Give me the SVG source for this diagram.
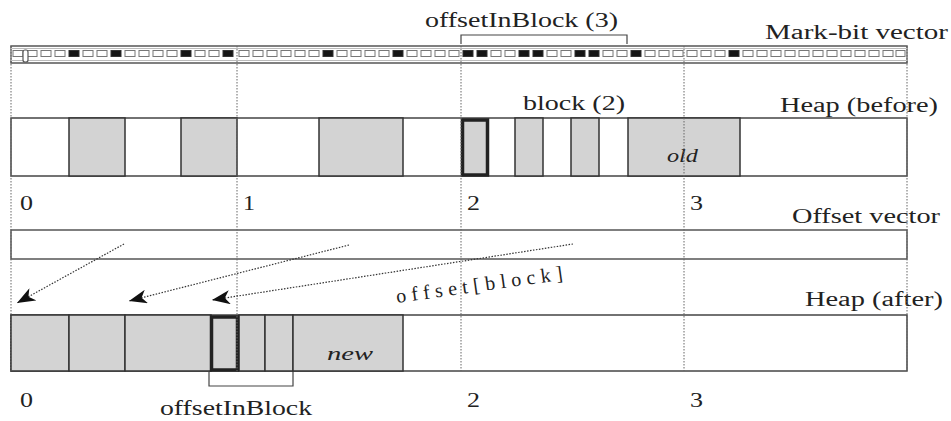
<svg xmlns="http://www.w3.org/2000/svg" width="951" height="421" viewBox="0 0 951 421">
  <style>
    .lbl { font-family: 'Liberation Serif', 'DejaVu Serif', serif; font-size: 20px; fill: #222; }
    .it { font-style: italic; font-size: 18px; }
    .box { fill: #ffffff; stroke: #444; stroke-width: 1.5; }
    .obj { fill: #d3d3d3; stroke: #333; stroke-width: 1.5; }
    .sel { fill: #d3d3d3; stroke: #222; stroke-width: 3.5; }
    .grid { stroke: #666; stroke-width: 1; stroke-dasharray: 1.5 1.5; fill: none; }
    .cell { fill: #ffffff; stroke: #777; stroke-width: 1; }
    .cell.on { fill: #151515; stroke: #333; }
    .ptr { stroke: #333; stroke-width: 1.2; stroke-dasharray: 1.5 1.5; fill: none; }
    .brk { stroke: #444; stroke-width: 1.2; fill: none; }
  </style>
  <defs>
    <marker id="head" markerUnits="userSpaceOnUse" markerWidth="20" markerHeight="14" refX="18" refY="7" orient="auto">
      <path d="M0,0 L18,7 L0,14 L5,7 z" fill="#111"/>
    </marker>
  </defs>
  <rect width="951" height="421" fill="#ffffff"/>

  <!-- mark-bit vector: 64 cells, 16 per block -->
  <g id="markbits">
    <rect x="11" y="46" width="896" height="17" fill="#fff" stroke="#555" stroke-width="1.5"/>
    <rect x="11" y="48.5" width="896" height="12" fill="none" stroke="#bbb" stroke-width="1"/>
    <g id="cells">
      <rect class="cell" x="13" y="50.5" width="10" height="6"/>
      <rect class="cell" x="27" y="50.5" width="10" height="6"/>
      <rect class="cell" x="41" y="50.5" width="10" height="6"/>
      <rect class="cell" x="55" y="50.5" width="10" height="6"/>
      <rect class="cell on" x="69" y="50.5" width="10" height="6"/>
      <rect class="cell" x="83" y="50.5" width="10" height="6"/>
      <rect class="cell" x="97" y="50.5" width="10" height="6"/>
      <rect class="cell on" x="111" y="50.5" width="10" height="6"/>
      <rect class="cell" x="125" y="50.5" width="10" height="6"/>
      <rect class="cell" x="139" y="50.5" width="10" height="6"/>
      <rect class="cell" x="153" y="50.5" width="10" height="6"/>
      <rect class="cell" x="167" y="50.5" width="10" height="6"/>
      <rect class="cell on" x="181" y="50.5" width="10" height="6"/>
      <rect class="cell" x="195" y="50.5" width="10" height="6"/>
      <rect class="cell" x="209" y="50.5" width="10" height="6"/>
      <rect class="cell on" x="223" y="50.5" width="10" height="6"/>
      <rect class="cell" x="239" y="50.5" width="10" height="6"/>
      <rect class="cell" x="253" y="50.5" width="10" height="6"/>
      <rect class="cell" x="267" y="50.5" width="10" height="6"/>
      <rect class="cell" x="281" y="50.5" width="10" height="6"/>
      <rect class="cell" x="295" y="50.5" width="10" height="6"/>
      <rect class="cell" x="309" y="50.5" width="10" height="6"/>
      <rect class="cell on" x="323" y="50.5" width="10" height="6"/>
      <rect class="cell" x="337" y="50.5" width="10" height="6"/>
      <rect class="cell" x="351" y="50.5" width="10" height="6"/>
      <rect class="cell" x="365" y="50.5" width="10" height="6"/>
      <rect class="cell" x="379" y="50.5" width="10" height="6"/>
      <rect class="cell on" x="393" y="50.5" width="10" height="6"/>
      <rect class="cell" x="407" y="50.5" width="10" height="6"/>
      <rect class="cell" x="421" y="50.5" width="10" height="6"/>
      <rect class="cell" x="435" y="50.5" width="10" height="6"/>
      <rect class="cell" x="449" y="50.5" width="10" height="6"/>
      <rect class="cell on" x="463" y="50.5" width="10" height="6"/>
      <rect class="cell on" x="477" y="50.5" width="10" height="6"/>
      <rect class="cell" x="491" y="50.5" width="10" height="6"/>
      <rect class="cell" x="505" y="50.5" width="10" height="6"/>
      <rect class="cell on" x="519" y="50.5" width="10" height="6"/>
      <rect class="cell on" x="533" y="50.5" width="10" height="6"/>
      <rect class="cell" x="547" y="50.5" width="10" height="6"/>
      <rect class="cell" x="561" y="50.5" width="10" height="6"/>
      <rect class="cell on" x="575" y="50.5" width="10" height="6"/>
      <rect class="cell on" x="589" y="50.5" width="10" height="6"/>
      <rect class="cell" x="603" y="50.5" width="10" height="6"/>
      <rect class="cell" x="617" y="50.5" width="10" height="6"/>
      <rect class="cell on" x="631" y="50.5" width="10" height="6"/>
      <rect class="cell" x="645" y="50.5" width="10" height="6"/>
      <rect class="cell" x="659" y="50.5" width="10" height="6"/>
      <rect class="cell" x="673" y="50.5" width="10" height="6"/>
      <rect class="cell" x="687" y="50.5" width="10" height="6"/>
      <rect class="cell" x="701" y="50.5" width="10" height="6"/>
      <rect class="cell" x="715" y="50.5" width="10" height="6"/>
      <rect class="cell on" x="729" y="50.5" width="10" height="6"/>
      <rect class="cell" x="743" y="50.5" width="10" height="6"/>
      <rect class="cell" x="757" y="50.5" width="10" height="6"/>
      <rect class="cell" x="771" y="50.5" width="10" height="6"/>
      <rect class="cell" x="785" y="50.5" width="10" height="6"/>
      <rect class="cell" x="799" y="50.5" width="10" height="6"/>
      <rect class="cell" x="813" y="50.5" width="10" height="6"/>
      <rect class="cell" x="827" y="50.5" width="10" height="6"/>
      <rect class="cell" x="841" y="50.5" width="10" height="6"/>
      <rect class="cell" x="855" y="50.5" width="10" height="6"/>
      <rect class="cell" x="869" y="50.5" width="10" height="6"/>
      <rect class="cell" x="883" y="50.5" width="10" height="6"/>
      <rect class="cell" x="896" y="50.5" width="9" height="6"/>
    </g>
    <rect x="23" y="50" width="5" height="12" rx="2" fill="#fff" stroke="#555" stroke-width="1.2"/>
    <text class="lbl" x="765" y="39" textLength="183" lengthAdjust="spacingAndGlyphs">Mark-bit vector</text>
  </g>

  <!-- bracket: offsetInBlock (3) -->
  <g id="bracket-top">
    <path class="brk" d="M461,44 V35 H627 V44"/>
    <text class="lbl" x="425" y="27" textLength="193" lengthAdjust="spacingAndGlyphs">offsetInBlock (3)</text>
  </g>

  <!-- heap before compaction -->
  <g id="heap-before">
    <rect class="box" x="11" y="118" width="896" height="58"/>
    <rect class="obj" x="69" y="118" width="56" height="58"/>
    <rect class="obj" x="181" y="118" width="56" height="58"/>
    <rect class="obj" x="319" y="118" width="84" height="58"/>
    <rect class="sel" x="462.5" y="120" width="25" height="55"/>
    <rect class="obj" x="515" y="118" width="28" height="58"/>
    <rect class="obj" x="571" y="118" width="28" height="58"/>
    <rect class="obj" x="628" y="118" width="112" height="58"/>
    <text class="lbl it" x="667" y="162" textLength="31" lengthAdjust="spacingAndGlyphs">old</text>
    <text class="lbl" x="523" y="110" textLength="102" lengthAdjust="spacingAndGlyphs">block (2)</text>
    <text class="lbl" x="780" y="112" textLength="158" lengthAdjust="spacingAndGlyphs">Heap (before)</text>
  </g>

  <!-- block numbers -->
  <g id="block-index-top">
    <text class="lbl" x="20" y="210" textLength="13" lengthAdjust="spacingAndGlyphs">0</text>
    <text class="lbl" x="243" y="210" textLength="12" lengthAdjust="spacingAndGlyphs">1</text>
    <text class="lbl" x="467" y="210" textLength="13" lengthAdjust="spacingAndGlyphs">2</text>
    <text class="lbl" x="690" y="210" textLength="13" lengthAdjust="spacingAndGlyphs">3</text>
  </g>

  <!-- offset vector -->
  <g id="offset-vector">
    <rect x="11" y="230" width="896" height="29" fill="#fff" stroke="#555" stroke-width="1.5"/>
    <text class="lbl" x="792" y="223" textLength="148" lengthAdjust="spacingAndGlyphs">Offset vector</text>
  </g>

  <!-- heap after compaction -->
  <g id="heap-after">
    <rect class="box" x="11" y="315" width="896" height="56"/>
    <rect class="obj" x="11" y="315" width="58" height="56"/>
    <rect class="obj" x="69" y="315" width="56" height="56"/>
    <rect class="obj" x="125" y="315" width="86" height="56"/>
    <rect class="obj" x="239" y="315" width="26" height="56"/>
    <rect class="obj" x="265" y="315" width="28" height="56"/>
    <rect class="obj" x="293" y="315" width="110" height="56"/>
    <rect class="sel" x="211.5" y="317" width="26" height="53"/>
    <text class="lbl it" x="327" y="360" textLength="46" lengthAdjust="spacingAndGlyphs">new</text>
    <text class="lbl" x="805" y="306" textLength="138" lengthAdjust="spacingAndGlyphs">Heap (after)</text>
  </g>

  <!-- block boundaries -->
  <g id="grid">
    <line class="grid" x1="11" y1="46" x2="11" y2="371"/>
    <line class="grid" x1="237" y1="46" x2="237" y2="371"/>
    <line class="grid" x1="461" y1="46" x2="461" y2="371"/>
    <line class="grid" x1="684" y1="46" x2="684" y2="371"/>
    <line class="grid" x1="907" y1="46" x2="907" y2="371"/>
  </g>

  <!-- bracket: offsetInBlock -->
  <g id="bracket-bottom">
    <path class="brk" d="M209,372 V386 H293 V372"/>
    <text class="lbl" x="160" y="415" textLength="152" lengthAdjust="spacingAndGlyphs">offsetInBlock</text>
  </g>

  <g id="block-index-bottom">
    <text class="lbl" x="20" y="407" textLength="13" lengthAdjust="spacingAndGlyphs">0</text>
    <text class="lbl" x="467" y="407" textLength="13" lengthAdjust="spacingAndGlyphs">2</text>
    <text class="lbl" x="690" y="407" textLength="13" lengthAdjust="spacingAndGlyphs">3</text>
  </g>

  <!-- forwarding pointers -->
  <g id="connectors">
    <line class="ptr" x1="124" y1="244" x2="17" y2="303" marker-end="url(#head)"/>
    <line class="ptr" x1="349" y1="245" x2="129" y2="301" marker-end="url(#head)"/>
    <line class="ptr" x1="573" y1="244" x2="212" y2="300" marker-end="url(#head)"/>
    <text class="lbl" x="397" y="303" font-size="22" textLength="168" transform="rotate(-8 397 303)">offset[block]</text>
  </g>
</svg>
